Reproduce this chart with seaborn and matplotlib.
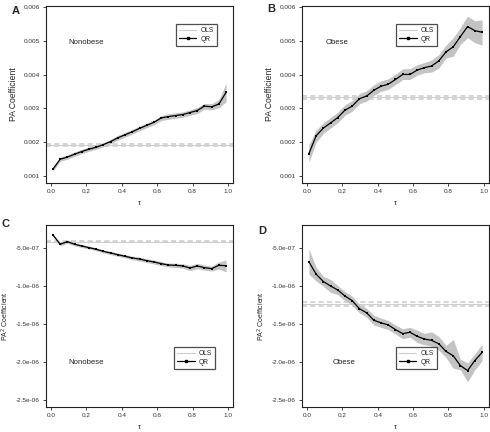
import numpy as np
import pandas as pd
import matplotlib
matplotlib.use("Agg")
import matplotlib.pyplot as plt
import seaborn as sns

tau = [0.01, 0.051, 0.092, 0.1325, 0.173, 0.214, 0.255, 0.296, 0.337, 0.377,
       0.418, 0.459, 0.5, 0.541, 0.582, 0.623, 0.663, 0.704, 0.745, 0.786,
       0.827, 0.867, 0.908, 0.949, 0.99]

# Panel A: nonobese, PA
qr_a = [0.00120, 0.001495, 0.00156, 0.001644, 0.001723, 0.001792, 0.001851, 0.00193,
        0.00202, 0.00213, 0.00222, 0.00231, 0.00241, 0.00250, 0.00259, 0.00272,
        0.00276, 0.00279, 0.00282, 0.00288, 0.00294, 0.00307, 0.00305, 0.00313, 0.00348]
lo_a = [0.00114, 0.00143, 0.00150, 0.00158, 0.00166, 0.00173, 0.00179, 0.00187,
        0.00196, 0.00206, 0.00215, 0.00224, 0.00234, 0.00243, 0.00252, 0.00264,
        0.00268, 0.00271, 0.00274, 0.00280, 0.00285, 0.00298, 0.00296, 0.00302, 0.00320]
hi_a = [0.00126, 0.00156, 0.00162, 0.00171, 0.00179, 0.00186, 0.00192, 0.00199,
        0.00209, 0.00220, 0.00229, 0.00238, 0.00248, 0.00257, 0.00266, 0.00279,
        0.00284, 0.00287, 0.00290, 0.00296, 0.00303, 0.00315, 0.00314, 0.00326, 0.00375]
ols_a, ols_a_lo, ols_a_hi = 0.00191, 0.00188, 0.00194

# Panel B: obese, PA
qr_b = [0.00166, 0.00219, 0.00242, 0.00257, 0.00273, 0.00295, 0.00307, 0.00329,
        0.00337, 0.00354, 0.00366, 0.00372, 0.00386, 0.00401, 0.00401, 0.00414,
        0.00421, 0.00426, 0.00441, 0.00468, 0.00483, 0.00513, 0.00543, 0.00531, 0.00526]
lo_b = [0.00140, 0.00200, 0.00226, 0.00242, 0.00258, 0.00280, 0.00292, 0.00314,
        0.00322, 0.00339, 0.00351, 0.00357, 0.00371, 0.00386, 0.00386, 0.00399,
        0.00406, 0.00408, 0.00420, 0.00450, 0.00455, 0.00490, 0.00510, 0.00495, 0.00488]
hi_b = [0.00192, 0.00236, 0.00258, 0.00273, 0.00289, 0.00311, 0.00323, 0.00344,
        0.00353, 0.00370, 0.00382, 0.00388, 0.00402, 0.00418, 0.00418, 0.00430,
        0.00436, 0.00444, 0.00460, 0.00488, 0.00510, 0.00540, 0.00574, 0.00560, 0.00563]
ols_b, ols_b_lo, ols_b_hi = 0.00333, 0.00328, 0.00338

# Panel C: nonobese, PA^2
qr_c = [-3.24e-7, -4.47e-7, -4.12e-7, -4.47e-7, -4.69e-7, -4.91e-7, -5.13e-7, -5.40e-7,
        -5.62e-7, -5.84e-7, -6.05e-7, -6.27e-7, -6.41e-7, -6.63e-7, -6.80e-7, -7.02e-7,
        -7.20e-7, -7.24e-7, -7.33e-7, -7.59e-7, -7.33e-7, -7.55e-7, -7.68e-7, -7.24e-7, -7.29e-7]
lo_c = [-3.40e-7, -4.67e-7, -4.35e-7, -4.67e-7, -4.89e-7, -5.11e-7, -5.33e-7, -5.60e-7,
        -5.84e-7, -6.06e-7, -6.27e-7, -6.50e-7, -6.66e-7, -6.88e-7, -7.06e-7, -7.28e-7,
        -7.45e-7, -7.52e-7, -7.62e-7, -7.95e-7, -7.68e-7, -7.88e-7, -8.00e-7, -7.75e-7, -8.10e-7]
hi_c = [-3.08e-7, -4.27e-7, -3.90e-7, -4.27e-7, -4.49e-7, -4.71e-7, -4.93e-7, -5.20e-7,
        -5.40e-7, -5.62e-7, -5.83e-7, -6.04e-7, -6.16e-7, -6.38e-7, -6.54e-7, -6.76e-7,
        -6.95e-7, -6.96e-7, -7.04e-7, -7.25e-7, -6.98e-7, -7.22e-7, -7.35e-7, -6.80e-7, -6.55e-7]
ols_c, ols_c_lo, ols_c_hi = -4.13e-7, -4.20e-7, -4.06e-7

# Panel D: obese, PA^2
qr_d = [-6.77e-7, -8.41e-7, -9.38e-7, -9.96e-7, -1.049e-6, -1.128e-6, -1.19e-6, -1.296e-6,
        -1.35e-6, -1.447e-6, -1.482e-6, -1.509e-6, -1.571e-6, -1.624e-6, -1.606e-6, -1.659e-6,
        -1.695e-6, -1.712e-6, -1.757e-6, -1.858e-6, -1.916e-6, -2.044e-6, -2.111e-6, -1.978e-6, -1.872e-6]
lo_d = [-8.40e-7, -9.30e-7, -1.00e-6, -1.08e-6, -1.11e-6, -1.19e-6, -1.25e-6, -1.35e-6,
        -1.41e-6, -1.51e-6, -1.54e-6, -1.57e-6, -1.63e-6, -1.69e-6, -1.67e-6, -1.74e-6,
        -1.77e-6, -1.79e-6, -1.84e-6, -1.94e-6, -2.08e-6, -2.10e-6, -2.26e-6, -2.10e-6, -1.98e-6]
hi_d = [-5.10e-7, -7.50e-7, -8.70e-7, -9.10e-7, -9.90e-7, -1.07e-6, -1.13e-6, -1.24e-6,
        -1.29e-6, -1.38e-6, -1.42e-6, -1.45e-6, -1.51e-6, -1.56e-6, -1.54e-6, -1.58e-6,
        -1.62e-6, -1.60e-6, -1.66e-6, -1.78e-6, -1.70e-6, -1.96e-6, -2.01e-6, -1.89e-6, -1.76e-6]
ols_d, ols_d_lo, ols_d_hi = -1.233e-6, -1.255e-6, -1.211e-6

panels = [
    ("A", "Nonobese", "PA Coefficient", qr_a, lo_a, hi_a, (ols_a, ols_a_lo, ols_a_hi)),
    ("B", "Obese", "PA Coefficient", qr_b, lo_b, hi_b, (ols_b, ols_b_lo, ols_b_hi)),
    ("C", "Nonobese", "PA$^2$ Coefficient", qr_c, lo_c, hi_c, (ols_c, ols_c_lo, ols_c_hi)),
    ("D", "Obese", "PA$^2$ Coefficient", qr_d, lo_d, hi_d, (ols_d, ols_d_lo, ols_d_hi)),
]

sns.set_style("ticks")
plt.rcParams['font.family'] = ['Liberation Sans', 'DejaVu Sans']

fig = plt.figure(figsize=(4.9, 4.32), dpi=100)
rects = [
    [0.0939, 0.5764, 0.3816, 0.4097],
    [0.6163, 0.5764, 0.3816, 0.4097],
    [0.0939, 0.0579, 0.3816, 0.4213],
    [0.6163, 0.0579, 0.3816, 0.4213],
]
letter_pos = [(0.024, 0.985), (0.545, 0.990), (0.004, 0.492), (0.527, 0.477)]
text_pos = [(0.2, 0.00497), (0.17, 0.00497), (0.2, -2.0e-6), (0.21, -2.0e-6)]
legend_pos = [(0.694, 0.898), (0.503, 0.898), (0.684, 0.330), (0.501, 0.330)]
ylabel_x = [-0.175, -0.175, -0.218, -0.218]

for i, (letter, group, ylabel, qr, lo, hi, ols) in enumerate(panels):
    ax = fig.add_axes(rects[i])
    df = pd.DataFrame({"tau": tau, "coef": qr})
    ax.fill_between(tau, lo, hi, color="#c4c4c4", linewidth=0, zorder=1)
    est, olo, ohi = ols
    ax.axhline(est, color="#d0d0d0", lw=0.8, zorder=0.5)
    ax.axhline(olo, color="#cfcfcf", lw=1.2, ls=(0, (3, 2)), zorder=0.5)
    ax.axhline(ohi, color="#cfcfcf", lw=1.2, ls=(0, (3, 2)), zorder=0.5)
    sns.lineplot(data=df, x="tau", y="coef", ax=ax, color="black", lw=0.9,
                 marker="s", markersize=1.8, markeredgewidth=0, zorder=3)
    ax.set_xlim(-0.029, 1.029)
    if i < 2:
        ax.set_ylim(0.00079, 0.00604)
        ax.set_yticks([0.001, 0.002, 0.003, 0.004, 0.005, 0.006])
        ax.set_yticklabels(["0.001", "0.002", "0.003", "0.004", "0.005", "0.006"])
        ylfs = 6.2
    else:
        ax.set_ylim(-2.59e-6, -1.93e-7)
        ax.set_yticks([-5e-7, -1e-6, -1.5e-6, -2e-6, -2.5e-6])
        ax.set_yticklabels(["-5.0e-07", "-1.0e-06", "-1.5e-06", "-2.0e-06", "-2.5e-06"])
        ylfs = 5.0
    ax.set_xticks([0.0, 0.2, 0.4, 0.6, 0.8, 1.0])
    ax.set_xticklabels(["0.0", "0.2", "0.4", "0.6", "0.8", "1.0"])
    ax.tick_params(axis="both", labelsize=4.6, length=2.5, width=0.6, pad=2,
                   colors="#222222", labelcolor="#333333")
    ax.set_xlabel("\u03c4", fontsize=5.5, labelpad=4)
    ax.set_ylabel(ylabel, fontsize=ylfs, va="center")
    ax.yaxis.set_label_coords(ylabel_x[i], 0.5)
    for s in ax.spines.values():
        s.set_visible(True)
        s.set_linewidth(0.8)
        s.set_color("#222222")
    ax.text(text_pos[i][0], text_pos[i][1], group, fontsize=5.6, ha="center",
            va="center", color="#222222")
    handles = [
        plt.Line2D([], [], color="#cccccc", lw=0.8),
        plt.Line2D([], [], color="black", lw=0.9, marker="s", markersize=1.8),
    ]
    leg = ax.legend(handles, ["OLS", "QR"], loc="upper left",
                    bbox_to_anchor=legend_pos[i], fontsize=4.8, frameon=True,
                    fancybox=False, handlelength=2.6, handletextpad=0.6,
                    borderpad=0.5, labelspacing=0.2, borderaxespad=0)
    leg.get_frame().set_edgecolor("#222222")
    leg.get_frame().set_linewidth(0.9)
    fig.text(letter_pos[i][0], letter_pos[i][1], letter, fontsize=8,
             fontweight="bold", ha="left", va="top")

fig.savefig("out.png", dpi=100)
